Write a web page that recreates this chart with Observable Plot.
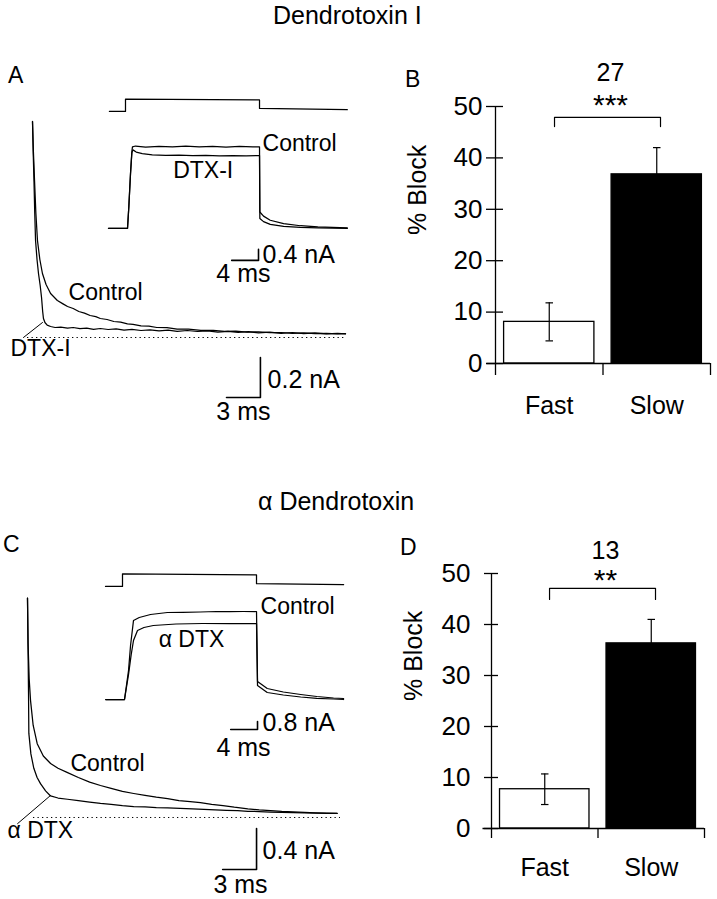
<!DOCTYPE html>
<html><head><meta charset="utf-8">
<script src="https://cdn.jsdelivr.net/npm/d3@7"></script>
<script src="https://cdn.jsdelivr.net/npm/@observablehq/plot@0.6"></script>
<style>
body{margin:0;background:#fff;}
#page{position:relative;width:717px;height:899px;overflow:hidden;background:#fff;font-family:"Liberation Sans",Arial,Helvetica,sans-serif;}
.slot{position:absolute;}
#over{position:absolute;left:0;top:0;pointer-events:none;}
</style></head><body><div id="page"></div>
<script>
// ---------- DATA ----------
// Panel A main traces: [time ms, current nA]
const ctrlA = [[0,1.08],[0.08,0.93],[0.18,0.785],[0.3,0.62],[0.44,0.485],[0.65,0.39],[0.88,0.32],[1.2,0.265],[1.6,0.22],[2.2,0.185],[2.7,0.168],[3.1,0.155],[3.6,0.145],[4.1,0.13],[4.6,0.122],[5.1,0.11],[5.6,0.104],[6.0,0.095],[6.6,0.09],[7.2,0.08],[7.8,0.077],[8.4,0.068],[8.9,0.066],[9.6,0.058],[10.3,0.057],[11.0,0.05],[11.9,0.049],[12.8,0.042],[13.8,0.042],[14.9,0.036],[16.0,0.036],[17.0,0.031],[18.0,0.032],[19.0,0.027],[20.0,0.028],[21.0,0.024],[22.0,0.025],[23.0,0.021],[24.0,0.023],[25.0,0.019],[26.0,0.021],[27.0,0.018],[27.7,0.019]];
const dtxA = [[0,1.08],[0.06,0.93],[0.13,0.785],[0.2,0.62],[0.27,0.485],[0.4,0.39],[0.53,0.32],[0.68,0.26],[0.8,0.2],[0.9,0.13],[0.97,0.095],[1.1,0.075],[1.3,0.062],[1.6,0.055],[2.0,0.05],[2.5,0.052],[3.1,0.047],[3.6,0.05],[4.2,0.044],[4.8,0.047],[5.4,0.041],[6.0,0.045],[6.7,0.04],[7.4,0.043],[8.1,0.037],[8.8,0.041],[9.6,0.035],[10.4,0.038],[11.2,0.033],[12.0,0.037],[12.8,0.031],[13.7,0.035],[14.6,0.03],[15.5,0.033],[16.4,0.027],[17.3,0.031],[18.2,0.025],[19.1,0.029],[20.0,0.023],[21.0,0.027],[22.0,0.021],[23.0,0.025],[24.0,0.019],[25.0,0.023],[26.0,0.018],[27.0,0.021],[27.7,0.018]];
// Panel A inset: command voltage [ms, mV] and currents [ms, nA]
const voltA = [[-2.4,-80],[0,-80],[0,2],[20.0,-3],[20.0,-60],[33.1,-68]];
const insCtrlA = [[-2.54,0],[0.3,0],[0.5,0.8],[0.75,2.0],[0.95,2.8],[1.04,2.97],[1.5,3.0],[3,2.96],[5,2.99],[7,2.97],[9,3.0],[11,2.97],[13,2.99],[15,2.96],[17,2.99],[19,2.97],[20.0,2.97],[20.05,0.6],[20.6,0.45],[21.6,0.3],[23.6,0.18],[26.1,0.1],[28.7,0.06],[33.1,0.02]];
const insDtxA = [[-2.54,0],[0.3,0],[0.5,0.8],[0.75,2.0],[0.95,2.75],[1.1,2.86],[1.6,2.78],[2.5,2.72],[4,2.68],[6,2.66],[8,2.67],[10,2.65],[12,2.66],[14,2.64],[16,2.65],[18,2.64],[20.0,2.65],[20.05,0.36],[20.6,0.25],[21.6,0.15],[23.6,0.08],[26.1,0.04],[28.7,0.02],[33.1,0.0]];
// Panel C main traces
const ctrlC = [[0,2.14],[0.05,1.7],[0.15,1.35],[0.27,1.14],[0.5,0.9],[0.86,0.72],[1.4,0.6],[2.04,0.527],[2.7,0.48],[3.5,0.44],[4.5,0.39],[5.5,0.345],[6.46,0.312],[7.4,0.285],[8.4,0.255],[9.4,0.234],[10.4,0.215],[11.4,0.198],[12.4,0.185],[13.4,0.165],[14.4,0.155],[15.3,0.146],[16.3,0.128],[17.3,0.115],[18.3,0.1],[19.5,0.085],[20.5,0.075],[21.5,0.068],[22.5,0.06],[23.5,0.056],[24.5,0.05],[25.5,0.046],[26.5,0.042],[27.4,0.039]];
const dtxC = [[0,2.14],[0.04,1.75],[0.09,1.22],[0.12,0.82],[0.3,0.62],[0.56,0.48],[0.85,0.39],[1.15,0.33],[1.6,0.26],[2.04,0.21],[2.7,0.19],[3.54,0.178],[4.5,0.165],[5.5,0.15],[6.46,0.137],[7.4,0.128],[8.4,0.116],[9.4,0.107],[10.4,0.103],[11.4,0.097],[12.4,0.095],[13.5,0.09],[14.6,0.084],[15.6,0.08],[16.6,0.074],[17.6,0.07],[18.6,0.066],[19.5,0.06],[20.5,0.058],[21.5,0.053],[22.5,0.05],[23.5,0.048],[24.5,0.044],[25.5,0.043],[26.5,0.04],[27.4,0.039]];
// Panel C inset
const voltC = [[-2.54,-80],[0,-80],[0,-2],[20.0,-8],[20.0,-63],[33.0,-69]];
const insCtrlC = [[-2.5,0],[0.3,0],[0.9,2.9],[1.2,5.4],[1.64,7.9],[2.5,8.2],[4.18,8.5],[6.7,8.7],[9,8.72],[11.6,8.75],[14,8.8],[16,8.78],[18,8.8],[20.0,8.8],[20.15,1.8],[21.6,1.1],[24,0.75],[26.6,0.5],[29,0.3],[31.5,0.15],[33.0,0.1]];
const insDtxC = [[-2.5,0],[0.3,0],[0.9,2.5],[1.3,4.5],[1.64,5.9],[2.24,6.9],[3.2,7.2],[4.6,7.4],[8,7.55],[12,7.6],[16,7.6],[20.0,7.6],[20.15,1.4],[21.6,0.7],[24,0.45],[26.6,0.25],[29,0.12],[31.5,0.05],[33.0,0.0]];
// Bar charts (% block, mean and SEM)
const categories = ["Fast","Slow"];
const blockB = [8.1, 36.8];
const semB = [3.7, 5.2];
const nB = "27", starsB = "***";
const blockD = [7.7, 36.3];
const semD = [3.0, 4.7];
const nD = "13", starsD = "**";
const yTicks = [0,10,20,30,40,50];

// ---------- HELPERS ----------
const FONT = '"Liberation Sans", Arial, Helvetica, sans-serif';
const page = document.getElementById("page");
const baseStyle = {background:"transparent", overflow:"visible", fontFamily:FONT, color:"black"};
function place(node, left, top){
  const d = document.createElement("div");
  d.className = "slot"; d.style.left = left+"px"; d.style.top = top+"px";
  d.appendChild(node); page.appendChild(d);
}
const X = d => d[0], Y = d => d[1];
const txt = (s, x, y, o={}) => Plot.text([s], {x: () => x, y: () => y, text: d => d, fontSize: 23, lineAnchor: "middle", ...o});
function scaleBar(cornerX, cornerY, dx, dy){
  return Plot.line([[cornerX - dx, cornerY],[cornerX, cornerY],[cornerX, cornerY + dy]], {x: X, y: Y, stroke:"black", strokeWidth:1.6});
}
function tracePlot(w, h, xd, yd, marks){
  return Plot.plot({width:w, height:h, margin:0, x:{domain:xd, axis:null}, y:{domain:yd, axis:null}, style:baseStyle, marks});
}
const lineOpts = {x: X, y: Y, stroke:"black", strokeWidth:1.25};

// ---------- PANEL A ----------
place(tracePlot(360, 330, [-2.832, 29.027], [-0.44, 1.21], [
  Plot.ruleY([0], {x1: -0.44, x2: 27.7, stroke:"black", strokeWidth:1, strokeDasharray:"1.3 3.2"}),
  Plot.line(ctrlA, lineOpts),
  Plot.line(dtxA, lineOpts),
  Plot.line([[-0.8,0],[0.885,0.075]], {x:X, y:Y, stroke:"black", strokeWidth:1}),
  scaleBar(20.17, -0.3, 3, 0.2),
  txt("Control", 3.19, 0.225, {textAnchor:"start"}),
  txt("DTX-I", -1.95, -0.055, {textAnchor:"start"}),
  txt("0.2 nA", 20.8, -0.21, {textAnchor:"start", fontSize:25}),
  txt("3 ms", 18.67, -0.37, {fontSize:25})
]), 0, 95);
place(tracePlot(260, 35, [-3.73, 35.07], [-140, 93.3], [
  Plot.line(voltA, lineOpts)
]), 100, 85);
place(tracePlot(260, 160, [-3.73, 35.07], [-2.255, 3.564], [
  Plot.line(insCtrlA, lineOpts),
  Plot.line(insDtxA, lineOpts),
  scaleBar(19.85, -1.16, 4, 0.4),
  txt("Control", 20.45, 3.09, {textAnchor:"start"}),
  txt("DTX-I", 11.6, 2.11),
  txt("0.4 nA", 20.45, -0.96, {textAnchor:"start", fontSize:25}),
  txt("4 ms", 17.6, -1.64, {fontSize:25})
]), 100, 130);

// ---------- PANEL C ----------
place(tracePlot(360, 339, [-2.389, 29.469], [-0.8, 2.507], [
  Plot.ruleY([0], {x1: 0.53, x2: 27.7, stroke:"black", strokeWidth:1, strokeDasharray:"1.3 3.2"}),
  Plot.line(ctrlC, lineOpts),
  Plot.line(dtxC, lineOpts),
  Plot.line([[-0.88,-0.06],[2.04,0.215]], {x:X, y:Y, stroke:"black", strokeWidth:1}),
  scaleBar(20.27, -0.507, 3, 0.4),
  txt("Control", 3.8, 0.527, {textAnchor:"start"}),
  txt("\u03b1 DTX", -1.77, -0.127, {textAnchor:"start"}),
  txt("0.4 nA", 20.8, -0.33, {textAnchor:"start", fontSize:25}),
  txt("3 ms", 18.85, -0.66, {fontSize:25})
]), 0, 560);
place(tracePlot(265, 35, [-4.03, 35.52], [-135.4, 80], [
  Plot.line(voltC, lineOpts)
]), 95, 560);
place(tracePlot(265, 170, [-4.03, 35.52], [-6.1, 10.9], [
  Plot.line(insCtrlC, lineOpts),
  Plot.line(insDtxC, lineOpts),
  scaleBar(20.15, -3.0, 4, 0.8),
  txt("Control", 20.6, 9.3, {textAnchor:"start"}),
  txt("\u03b1 DTX", 10.3, 6.0),
  txt("0.8 nA", 20.9, -2.3, {textAnchor:"start", fontSize:25}),
  txt("4 ms", 18.06, -4.8, {fontSize:25})
]), 95, 590);

// ---------- BAR PANELS ----------
function barPlot(o){
  const rows = categories.map((c, i) => ({c, i, v: o.vals[i], e: o.errs[i]}));
  const gap = 0.08, cap = 0.035;
  const caps = rows.flatMap(d => [{i:d.i, y:d.v + d.e}, {i:d.i, y:d.v - d.e}]);
  return Plot.plot({
    width:o.w, height:o.h, marginLeft:o.mL, marginRight:o.mR, marginTop:o.mT, marginBottom:o.mB,
    x:{domain:[0,2]}, y:{domain:[0,50]}, style:baseStyle,
    marks:[
      Plot.rectY(rows, {x1: d => d.i + gap, x2: d => d.i + 1 - gap, y1: 0, y2: "v", fill: d => d.i === 0 ? "white" : "black", stroke:"black", strokeWidth:1.3}),
      Plot.ruleX(rows, {x: d => d.i + 0.5, y1: d => d.v - d.e, y2: d => d.v + d.e, stroke:"black", strokeWidth:1.2}),
      Plot.link(caps, {x1: d => d.i + 0.5 - cap, x2: d => d.i + 0.5 + cap, y1: "y", y2: "y", stroke:"black", strokeWidth:1.2}),
      Plot.ruleX([0], {y1:0, y2:50, stroke:"black", strokeWidth:1.3}),
      Plot.ruleY([0], {x1:-0.08, x2:2, stroke:"black", strokeWidth:1.3}),
      Plot.axisY({ticks:yTicks, tickSize:o.tL, tickPadding:o.tp, fontSize:26, label:null, strokeWidth:1.3}),
      Plot.axisY({ticks:yTicks, tickSize:o.tR, dx:o.tR, tickFormat:() => "", label:null, strokeWidth:1.3}),
      Plot.axisX({ticks:[0,1,2], tickSize:o.xt, tickFormat:() => "", label:null, strokeWidth:1.3}),
      Plot.axisX({ticks:[0.5,1.5], tickSize:0, tickPadding:o.xp, tickFormat: d => categories[Math.floor(d)], fontSize:25, label:null}),
      Plot.line([[o.bx1, o.leg],[o.bx1, o.by],[o.bx2, o.by],[o.bx2, o.leg]], {x:X, y:Y, stroke:"black", strokeWidth:1.2}),
      Plot.text([o.n], {x:() => 1.07, y:() => o.ny, text: d => d, fontSize:25, lineAnchor:"middle"}),
      Plot.text([o.stars], {x:() => 1.07, y:() => o.sy, text: d => d, fontSize:30, lineAnchor:"middle", dy:8}),
      Plot.text(["% Block"], {frameAnchor:"left", dx:-78, rotate:-90, fontSize:25, text: d => d})
    ]
  });
}
place(barPlot({vals:blockB, errs:semB, n:nB, stars:starsB, w:337, h:380, mL:115, mR:7, mT:66, mB:57,
  tL:9, tR:8, tp:4, xt:12, xp:33, bx1:0.549, bx2:1.535, by:47.9, leg:46.1, ny:56.6, sy:51.8}), 380, 40);
place(barPlot({vals:blockD, errs:semD, n:nD, stars:starsD, w:337, h:399, mL:111, mR:13, mT:73, mB:71,
  tL:7, tR:7, tp:14, xt:10, xp:30, bx1:0.545, bx2:1.54, by:47.1, leg:44.9, ny:54.5, sy:50.2}), 380, 500);

// ---------- TITLES & PANEL LETTERS ----------
const svgNS = "http://www.w3.org/2000/svg";
const over = document.createElementNS(svgNS, "svg");
over.setAttribute("id","over"); over.setAttribute("width",717); over.setAttribute("height",899);
[["Dendrotoxin I",273,24,25],["\u03b1 Dendrotoxin",258,510,25],["A",8,83,23],["B",405,87,23],["C",3,552,23],["D",400,555,23]].forEach(([s,x,y,f]) => {
  const t = document.createElementNS(svgNS, "text");
  t.setAttribute("x",x); t.setAttribute("y",y); t.setAttribute("font-size",f);
  t.setAttribute("font-family", FONT); t.setAttribute("fill","black");
  t.textContent = s; over.appendChild(t);
});
page.appendChild(over);
</script></body></html>
